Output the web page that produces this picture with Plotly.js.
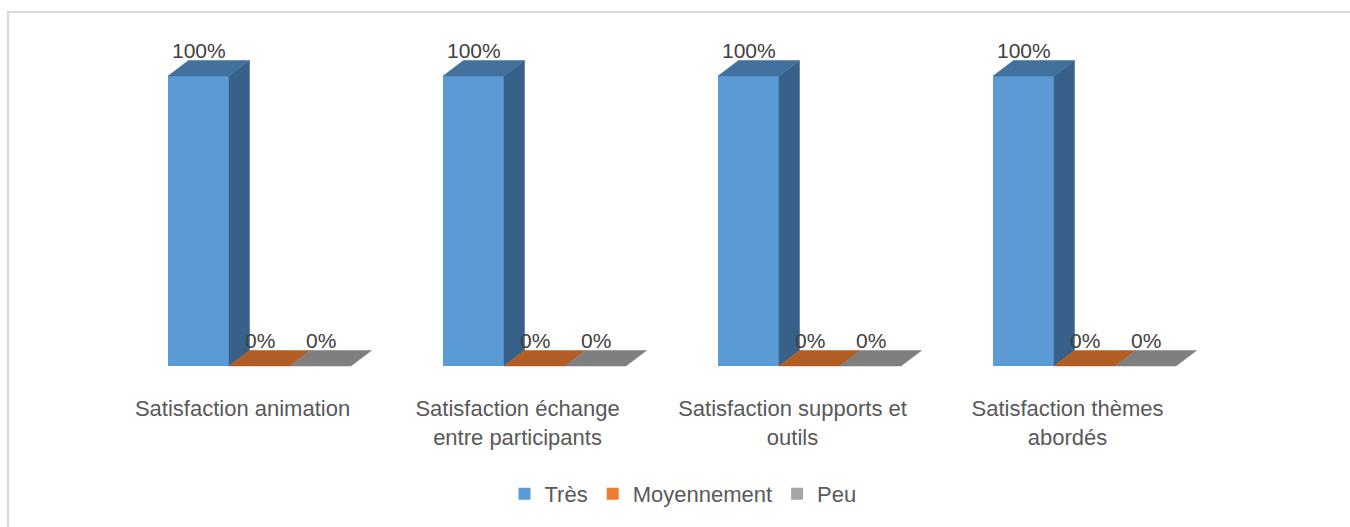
<!DOCTYPE html>
<html>
<head>
<meta charset="utf-8">
<script src="https://cdn.plot.ly/plotly-3.0.1.min.js"></script>
<style>
  html, body { margin: 0; padding: 0; background: #ffffff; }
  #chart { width: 1350px; height: 527px; position: absolute; left: 0; top: 0; }
  #frame { position: absolute; left: 7px; top: 11px; width: 1400px; height: 600px;
           border-left: 2px solid #D9D9D9; border-top: 2px solid #D9D9D9; pointer-events: none; z-index: 5; }
</style>
</head>
<body>
<div id="chart"></div>
<div id="frame"></div>
<script>
// ---- data ----
const categories = ["Satisfaction animation", "Satisfaction échange entre participants", "Satisfaction supports et outils", "Satisfaction thèmes abordés"];
const tickLabels = ["Satisfaction animation", "Satisfaction échange<br>entre participants", "Satisfaction supports et<br>outils", "Satisfaction thèmes<br>abordés"];
const seriesNames = ["Très", "Moyennement", "Peu"];
const tres = [100, 100, 100, 100];
const moyennement = [0, 0, 0, 0];
const peu = [0, 0, 0, 0];

// ---- styles ----
const frontColors = ["#5B9BD5", "#ED7D31", "#A5A5A5"];
const topColors = ["#41719C", "#B25D24", "#7F7F7F"];
const sideColors = ["#376189", "#9C4F1C", "#6E6E6E"];
const FONT = "Liberation Sans, Arial, sans-serif";

const series = [tres, moyennement, peu];
const n = categories.length;
const xs = categories.map((_, i) => i);

// geometry (layout-derived)
const bargap = 1 - 183 / 275;
const bw = (1 - bargap) / 3;
const pxPerX = 275;         // px per category
const pxPerY = 2.9;         // px per value unit
const depthX = 20.5 / pxPerX;
const depthY = 15.5 / pxPerY;

const traces = [];
// front faces as bars
series.forEach((vals, k) => {
  traces.push({
    type: "bar", name: seriesNames[k], x: xs, y: vals,
    marker: { color: frontColors[k], line: { width: 0 } },
    hoverinfo: "skip", cliponaxis: false
  });
});

// side and top faces computed from data
for (let i = 0; i < n; i++) {
  series.forEach((vals, k) => {
    const v = vals[i];
    const left = xs[i] - (1 - bargap) / 2 + k * bw;
    const right = left + bw;
    if (v > 0) {
      traces.push({
        type: "scatter", mode: "lines", fill: "toself", showlegend: false, hoverinfo: "skip",
        x: [right, right, right + depthX, right + depthX, right],
        y: [0, v, v + depthY, depthY, 0],
        fillcolor: sideColors[k], line: { color: sideColors[k], width: 0.5 }
      });
    }
    traces.push({
      type: "scatter", mode: "lines", fill: "toself", showlegend: false, hoverinfo: "skip",
      x: [left, right, right + depthX, left + depthX, left],
      y: [v, v, v + depthY, v + depthY, v],
      fillcolor: topColors[k], line: { color: topColors[k], width: 0.5 }
    });
  });
}

// value labels
const annotations = [];
for (let i = 0; i < n; i++) {
  series.forEach((vals, k) => {
    const left = xs[i] - (1 - bargap) / 2 + k * bw;
    annotations.push({
      x: left + bw / 2, y: vals[i], xref: "x", yref: "y",
      text: vals[i] + "%", showarrow: false, yshift: 26,
      font: { family: FONT, size: 21, color: "#404040" }
    });
  });
}

const plotTop = 30, plotBottom = 393, zeroPx = 366, plotLeft = 122, plotRight = 1222;
const yMax = (zeroPx - plotTop) / pxPerY;
const yMin = -(plotBottom - zeroPx) / pxPerY;

const layout = {
  width: 1350, height: 527,
  margin: { l: plotLeft, r: 1350 - plotRight, t: plotTop, b: 527 - plotBottom, pad: 0 },
  paper_bgcolor: "rgba(0,0,0,0)", plot_bgcolor: "rgba(0,0,0,0)",
  barmode: "group", bargap: bargap, bargroupgap: 0,
  showlegend: true,
  legend: {
    orientation: "h", xref: "container", yref: "container",
    x: 683 / 1350, xanchor: "center", y: 1 - 494 / 527, yanchor: "middle",
    font: { family: FONT, size: 22, color: "#595959" }, traceorder: "normal",
    itemclick: false, itemdoubleclick: false, itemwidth: 30
  },
  xaxis: {
    range: [-0.5, n - 0.5], showgrid: false, zeroline: false, showline: false,
    tickmode: "array", tickvals: xs.map(x => x - 17 / pxPerX), ticktext: tickLabels,
    ticks: "", tickfont: { family: FONT, size: 22, color: "#595959" }, fixedrange: true
  },
  yaxis: { range: [yMin, yMax], visible: false, fixedrange: true },
  annotations: annotations,
  hovermode: false
};

Plotly.newPlot("chart", traces, layout, { staticPlot: true, displayModeBar: false });
</script>
</body>
</html>
